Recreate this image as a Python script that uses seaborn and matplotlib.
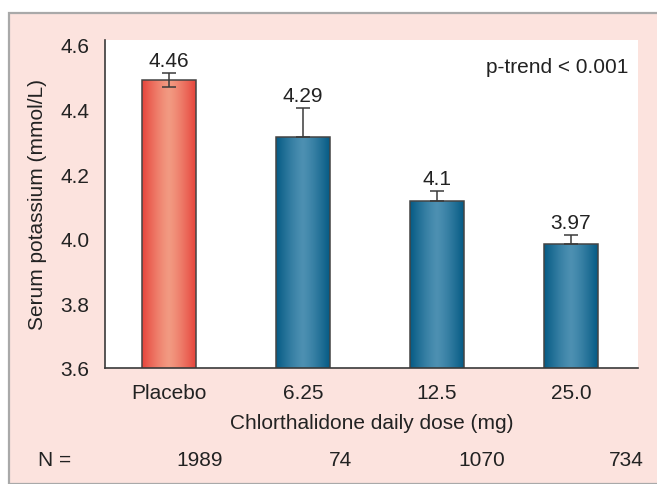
import numpy as np
import pandas as pd
import matplotlib
matplotlib.use("Agg")
import matplotlib.pyplot as plt
from matplotlib.colors import to_rgb
from matplotlib.patches import Rectangle
import seaborn as sns

# values
doses = ["Placebo", "6.25", "12.5", "25.0"]
potassium = [4.49, 4.315, 4.116, 3.985]
err_low = [0.02, 0.0, 0.0, 0.0]
err_high = [0.022, 0.089, 0.031, 0.028]
value_labels = ["4.46", "4.29", "4.1", "3.97"]
n_counts = ["1989", "74", "1070", "734"]
yticks = [3.6, 3.8, 4.0, 4.2, 4.4, 4.6]

bar_edge = {"Placebo": ("#e6443b", "#f29a82")}
blue_edge = ("#055a84", "#4d90b2")
FS = 15

sns.set_theme(style="white")
plt.rcParams["font.family"] = ["Liberation Sans", "DejaVu Sans"]

fig = plt.figure(figsize=(6.57, 4.85), dpi=100)
fig.patch.set_facecolor("white")

# pink panel behind the chart
W, H = 657, 485
panel = Rectangle((9 / W, 0), 1, 1 - 14 / H, transform=fig.transFigure,
                  facecolor="#fce3de", edgecolor="#a9a9a9", linewidth=1.6,
                  zorder=-10)
fig.patches.append(panel)

ax = fig.add_axes([105 / W, 116 / H, 533 / W, 328 / H])
ax.set_facecolor("white")

df = pd.DataFrame({"dose": doses, "k": potassium})
sns.barplot(data=df, x="dose", y="k", hue="dose", palette=["#e6443b"] + ["#055a84"] * 3,
            legend=False, width=0.4, edgecolor="#444444", linewidth=1.1, ax=ax)

ax.set_ylim(3.6, 4.615)
ax.set_xlim(-0.48, 3.5)

# gradient fill inside each bar
t = np.linspace(0, 1, 256)
prof = 1 - np.abs(2 * t - 1) ** 1.3
for patch, dose in zip(ax.patches, doses):
    edge_c, mid_c = bar_edge.get(dose, blue_edge)
    e = np.array(to_rgb(edge_c))
    m = np.array(to_rgb(mid_c))
    img = e[None, :] + (m - e)[None, :] * prof[:, None]
    img = img[None, :, :]
    x0 = patch.get_x()
    x1 = x0 + patch.get_width()
    im = ax.imshow(img, extent=(x0, x1, 3.6, patch.get_height()), aspect="auto",
                   zorder=patch.get_zorder() - 0.1, interpolation="bilinear")
    im.set_clip_path(patch)
    patch.set_facecolor("none")

ax.set_xlim(-0.48, 3.5)
ax.set_ylim(3.6, 4.615)

ax.errorbar(range(len(doses)), potassium, yerr=[err_low, err_high], fmt="none",
            ecolor="#3a3a3a", elinewidth=1.1, capsize=5, capthick=1.1, zorder=5)

for i, (v, lab) in enumerate(zip(potassium, value_labels)):
    ax.text(i, v + err_high[i] + 0.009, lab, ha="center", va="bottom",
            fontsize=FS, color="#222222")

ax.text(0.982, 0.918, "p-trend < 0.001", transform=ax.transAxes, ha="right",
        va="center", fontsize=FS, color="#222222")

ax.set_yticks(yticks)
ax.set_yticklabels([f"{v:.1f}" for v in yticks])
ax.tick_params(axis="y", length=0, labelsize=FS, colors="#222222", pad=11)
ax.tick_params(axis="x", length=0, labelsize=FS, colors="#222222", pad=11)
for s in ["top", "right"]:
    ax.spines[s].set_visible(False)
for s in ["left", "bottom"]:
    ax.spines[s].set_color("#3a3a3a")
    ax.spines[s].set_linewidth(1.2)

ax.set_xlabel("Chlorthalidone daily dose (mg)", fontsize=FS, color="#222222",
              labelpad=8)
ax.set_ylabel("Serum potassium (mmol/L)", fontsize=FS, color="#222222",
              labelpad=10)

# N row below the axis
fig.text(55 / W, 1 - 461 / H, "N =", ha="center", va="center", fontsize=FS,
         color="#222222")
for px, n in zip([200, 341, 482, 626], n_counts):
    fig.text(px / W, 1 - 461 / H, n, ha="center", va="center", fontsize=FS,
             color="#222222")

fig.savefig("out.png", dpi=100, facecolor=fig.get_facecolor())
